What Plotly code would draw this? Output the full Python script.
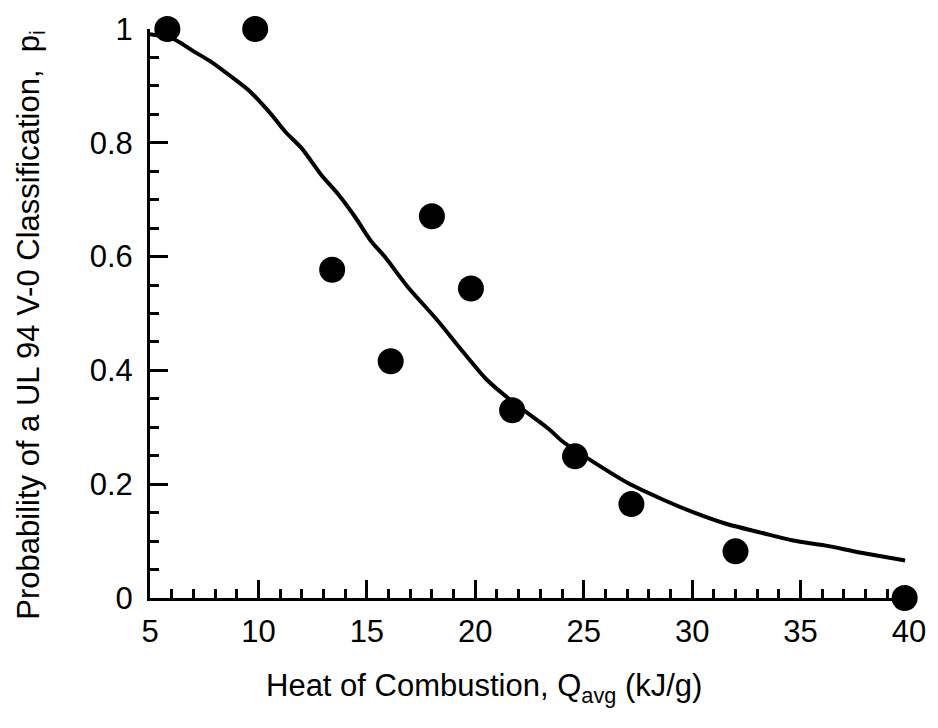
import plotly.graph_objects as go

# Measured data points
heat_x = [5.8, 9.85, 13.4, 16.1, 18.0, 19.8, 21.7, 24.6, 27.2, 32.0, 39.8]
prob_y = [1.0, 1.0, 0.577, 0.416, 0.671, 0.544, 0.33, 0.249, 0.165, 0.082, 0.0]

# Fitted curve
curve_x = [5.0, 6.05, 6.96, 7.87, 8.79, 9.56, 10.61, 11.25, 11.98, 12.89, 13.67,
           14.45, 15.18, 15.82, 16.86, 18.23, 19.47, 20.52, 21.75, 23.39, 24.03,
           25.53, 27.04, 28.59, 30.10, 31.60, 33.16, 34.66, 36.17, 37.72, 39.82]
curve_y = [0.991, 0.983, 0.962, 0.941, 0.915, 0.892, 0.849, 0.819, 0.791, 0.744, 0.710,
           0.670, 0.628, 0.600, 0.548, 0.489, 0.431, 0.384, 0.344, 0.297, 0.275,
           0.237, 0.202, 0.174, 0.150, 0.130, 0.115, 0.101, 0.092, 0.080, 0.066]

x_title = "Heat of Combustion, Q<sub>avg</sub> (kJ/g)"
y_title = "Probability of a UL 94 V-0 Classification,  p<sub>i</sub>"

FONT = "Liberation Sans, Arial, Helvetica, sans-serif"

fig = go.Figure()
fig.add_trace(go.Scatter(x=curve_x, y=curve_y, mode="lines",
                         line=dict(color="black", width=4, shape="spline", smoothing=0.8),
                         cliponaxis=False, showlegend=False, hoverinfo="skip"))
fig.add_trace(go.Scatter(x=heat_x, y=prob_y, mode="markers",
                         marker=dict(color="black", size=26),
                         cliponaxis=False, showlegend=False))

axis_common = dict(
    showgrid=False, zeroline=False, showline=True, linecolor="black", linewidth=3,
    ticks="inside", ticklen=18, tickwidth=3, tickcolor="black",
    tickfont=dict(family=FONT, size=31, color="black"),
)

fig.update_xaxes(range=[5, 40], dtick=5, tick0=5,
                 minor=dict(ticks="inside", ticklen=9, tickwidth=3, tickcolor="black", dtick=1),
                 ticklabelstandoff=4, **axis_common)
fig.update_yaxes(range=[0, 1], dtick=0.2, tick0=0,
                 minor=dict(ticks="inside", ticklen=9, tickwidth=3, tickcolor="black", dtick=0.05),
                 ticklabelstandoff=8, **axis_common)

fig.add_annotation(text=x_title, xref="paper", yref="paper", x=0.44, y=-0.158,
                   xanchor="center", yanchor="middle", showarrow=False,
                   font=dict(family=FONT, size=31, color="black"))
fig.add_annotation(text=y_title, xref="paper", yref="paper", x=-0.157, y=0.48,
                   xanchor="center", yanchor="middle", textangle=-90, showarrow=False,
                   font=dict(family=FONT, size=31, color="black"))

fig.update_layout(
    width=938, height=728,
    margin=dict(l=150, r=21, t=20, b=130),
    paper_bgcolor="white", plot_bgcolor="white",
)

fig.write_html("out.html")
